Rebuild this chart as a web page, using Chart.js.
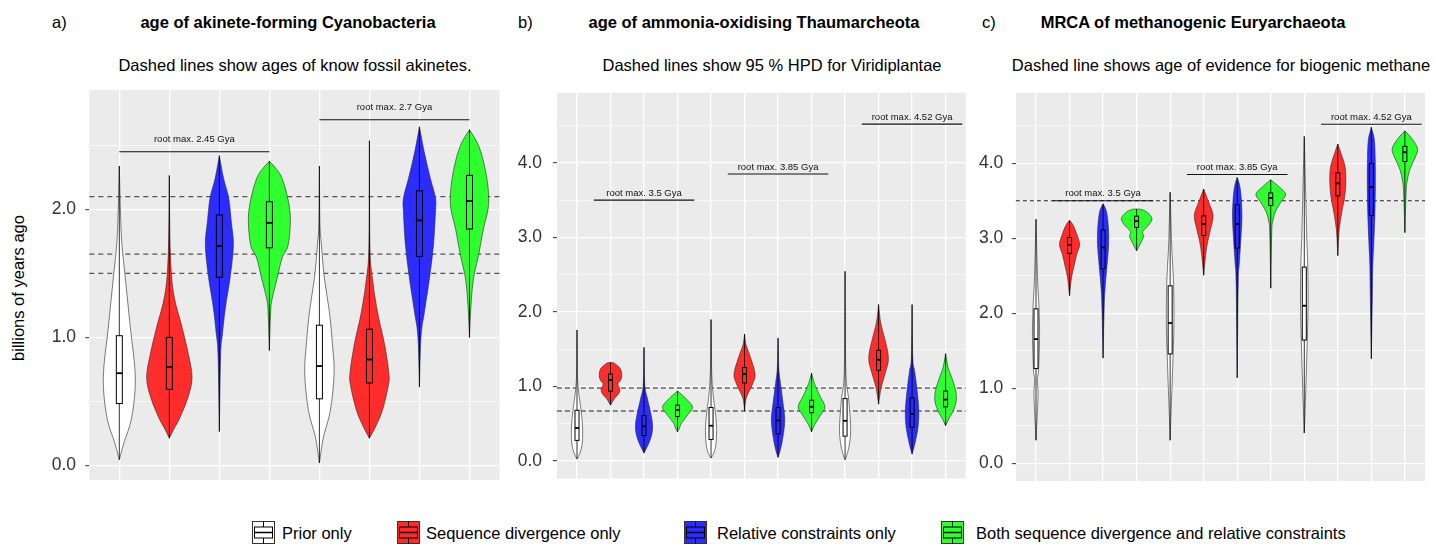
<!DOCTYPE html>
<html><head><meta charset="utf-8">
<script src="https://cdn.jsdelivr.net/npm/chart.js@4.4.1/dist/chart.umd.min.js"></script>
<style>
html,body{margin:0;padding:0;background:#fff;}
body{width:1435px;height:544px;position:relative;overflow:hidden;font-family:"Liberation Sans",Arial,Helvetica,sans-serif;color:#000;}
.t{position:absolute;white-space:nowrap;line-height:18px;}
.c{transform:translateX(-50%);}
canvas{position:absolute;top:0;}
</style></head><body>
<div class="t" style="left:52px;top:12.5px;font-size:16.5px;">a)</div>
<div class="t c" style="left:288px;top:12.5px;font-size:16.5px;font-weight:bold;">age of akinete-forming Cyanobacteria</div>
<div class="t c" style="left:295px;top:56px;font-size:16.5px;">Dashed lines show ages of know fossil akinetes.</div>
<div class="t" style="left:518px;top:12.5px;font-size:16.5px;">b)</div>
<div class="t c" style="left:754px;top:12.5px;font-size:16.5px;font-weight:bold;">age of ammonia-oxidising Thaumarcheota</div>
<div class="t c" style="left:772px;top:56px;font-size:16.5px;">Dashed lines show 95 % HPD for Viridiplantae</div>
<div class="t" style="left:982px;top:12.5px;font-size:16.5px;">c)</div>
<div class="t c" style="left:1193px;top:12.5px;font-size:16.5px;font-weight:bold;">MRCA of methanogenic Euryarchaeota</div>
<div class="t c" style="left:1221px;top:56px;font-size:16.5px;">Dashed line shows age of evidence for biogenic methane</div>
<div class="t" style="left:18px;top:288px;font-size:16.5px;transform:translate(-50%,-50%) rotate(-90deg);">billions of years ago</div>

<canvas id="pa" width="510" height="500" style="left:0px;"></canvas>
<canvas id="pb" width="470" height="500" style="left:505px;"></canvas>
<canvas id="pc" width="465" height="500" style="left:970px;"></canvas>
<div id="legend"></div>

<script>
// ---------------- DATA ----------------
const categories = ["Prior only", "Sequence divergence only", "Relative constraints only", "Both sequence divergence and relative constraints"];

// Panel a: age of akinete-forming Cyanobacteria
const aSeries = [0, 1, 2, 3, 0, 1, 2, 3];
const aQ1     = [0.483, 0.594, 1.47, 1.70, 0.52, 0.644, 1.633, 1.847];
const aMedian = [0.72, 0.767, 1.715, 1.895, 0.776, 0.827, 1.914, 2.065];
const aQ3     = [1.013, 1.0, 1.956, 2.06, 1.095, 1.064, 2.145, 2.266];
const aDensity = [
  [[2.339,0],[1.80,0.04],[1.465,0.12],[1.078,0.22],[0.69,0.32],[0.38,0.25],[0.173,0.09],[0.044,0]],
  [[2.265,0],[1.67,0.02],[1.34,0.086],[1.08,0.254],[0.87,0.38],[0.69,0.454],[0.54,0.38],[0.38,0.22],[0.28,0.086],[0.212,0]],
  [[2.42,0],[2.24,0.086],[2.09,0.186],[1.90,0.24],[1.72,0.28],[1.48,0.22],[1.23,0.12],[1.02,0.06],[0.86,0.026],[0.264,0]],
  [[2.377,0],[2.27,0.22],[2.11,0.354],[1.93,0.42],[1.72,0.374],[1.62,0.254],[1.46,0.154],[1.30,0.054],[1.20,0.026],[0.897,0]],
  [[2.339,0],[1.90,0.01],[1.72,0.04],[1.46,0.10],[1.20,0.20],[0.95,0.26],[0.72,0.294],[0.43,0.22],[0.22,0.08],[0.018,0]],
  [[2.537,0],[1.72,0.01],[1.46,0.06],[1.20,0.16],[0.95,0.30],[0.73,0.386],[0.63,0.38],[0.43,0.26],[0.30,0.12],[0.212,0]],
  [[2.646,0],[2.44,0.10],[2.24,0.22],[2.09,0.32],[1.98,0.32],[1.72,0.28],[1.46,0.20],[1.20,0.10],[1.0,0.03],[0.612,0]],
  [[2.623,0],[2.50,0.18],[2.34,0.30],[2.16,0.374],[2.01,0.374],[1.85,0.28],[1.64,0.18],[1.46,0.08],[1.25,0.03],[1.0,0]]
];
const aRefLines = [2.1, 1.65, 1.5];
const aRootMax = [2.45, 2.7];
const aRootFrom = [1, 5];
const aRootTo = [4, 8];
const aRootLabels = ["root max. 2.45 Gya", "root max. 2.7 Gya"];
const aTicks = [0, 1, 2];
const aTickLabels = ["0.0", "1.0", "2.0"];
const aMinorTicks = [0.5, 1.5, 2.5];

// Panel b: age of ammonia-oxidising Thaumarcheota
const bSeries = [0, 1, 2, 3, 0, 1, 2, 3, 0, 1, 2, 3];
const bQ1     = [0.276, 0.938, 0.342, 0.596, 0.289, 1.047, 0.364, 0.648, 0.333, 1.218, 0.451, 0.727];
const bMedian = [0.443, 1.087, 0.465, 0.683, 0.473, 1.166, 0.543, 0.727, 0.539, 1.358, 0.631, 0.824];
const bQ3     = [0.68, 1.166, 0.609, 0.749, 0.718, 1.253, 0.718, 0.815, 0.837, 1.485, 0.846, 0.938];
const bDensity = [
  [[1.757,0],[1.08,0.02],[0.68,0.12],[0.47,0.165],[0.25,0.16],[0.11,0.09],[0.026,0]],
  [[1.322,0],[1.316,0.1],[1.24,0.29],[1.15,0.337],[1.08,0.30],[1.034,0.22],[0.96,0.28],[0.90,0.24],[0.838,0.12],[0.749,0]],
  [[1.524,0],[1.034,0.02],[0.858,0.09],[0.683,0.18],[0.508,0.25],[0.376,0.24],[0.245,0.15],[0.105,0]],
  [[0.938,0],[0.88,0.15],[0.815,0.30],[0.718,0.45],[0.618,0.30],[0.508,0.12],[0.442,0.06],[0.39,0]],
  [[1.897,0],[1.209,0.02],[0.9,0.06],[0.683,0.12],[0.464,0.165],[0.245,0.15],[0.114,0.09],[0.039,0]],
  [[1.704,0],[1.56,0.045],[1.387,0.18],[1.166,0.315],[1.034,0.24],[0.903,0.105],[0.815,0.035],[0.67,0]],
  [[1.648,0],[1.253,0.02],[1.034,0.075],[0.771,0.15],[0.553,0.2],[0.333,0.15],[0.158,0.075],[0.048,0]],
  [[1.179,0],[1.034,0.09],[0.88,0.24],[0.727,0.40],[0.618,0.27],[0.508,0.12],[0.44,0.045],[0.39,0]],
  [[2.545,0],[1.4,0.015],[1.034,0.045],[0.858,0.1],[0.595,0.15],[0.376,0.165],[0.2,0.12],[0.09,0.06],[0.018,0]],
  [[2.099,0],[1.866,0.06],[1.647,0.18],[1.472,0.27],[1.34,0.29],[1.209,0.22],[1.056,0.12],[0.947,0.06],[0.762,0]],
  [[2.099,0],[1.385,0.02],[1.209,0.075],[0.947,0.15],[0.683,0.2],[0.464,0.18],[0.245,0.09],[0.092,0]],
  [[1.441,0],[1.253,0.075],[1.122,0.18],[0.947,0.30],[0.815,0.32],[0.683,0.24],[0.573,0.105],[0.473,0]]
];
const bRefLines = [0.98, 0.67];
const bRootMax = [3.5, 3.85, 4.52];
const bRootFrom = [1.5, 5.5, 9.5];
const bRootTo = [4.5, 8.5, 12.5];
const bRootLabels = ["root max. 3.5 Gya", "root max. 3.85 Gya", "root max. 4.52 Gya"];
const bTicks = [0, 1, 2, 3, 4];
const bTickLabels = ["0.0", "1.0", "2.0", "3.0", "4.0"];
const bMinorTicks = [0.5, 1.5, 2.5, 3.5, 4.5];

// Panel c: MRCA of methanogenic Euryarchaeota
const cSeries = [0, 1, 2, 3, 0, 1, 2, 3, 0, 1, 2, 3];
const cQ1     = [1.261, 2.799, 2.593, 3.145, 1.457, 3.036, 2.869, 3.437, 1.642, 3.565, 3.302, 4.023];
const cMedian = [1.655, 2.913, 2.877, 3.228, 1.869, 3.189, 3.19, 3.538, 2.1, 3.732, 3.684, 4.147];
const cQ3     = [2.058, 3.009, 3.11, 3.294, 2.365, 3.298, 3.447, 3.604, 2.615, 3.872, 3.994, 4.226];
const cDensity = [
  [[3.254,0],[2.475,0.045],[2.06,0.09],[1.686,0.105],[1.248,0.075],[1.116,0.04],[0.95,0.06],[0.722,0.045],[0.306,0]],
  [[3.24,0],[3.175,0.105],[3.044,0.224],[2.913,0.30],[2.781,0.21],[2.628,0.134],[2.475,0.06],[2.234,0]],
  [[3.46,0],[3.35,0.105],[3.13,0.16],[2.913,0.165],[2.65,0.12],[2.34,0.06],[2.04,0.03],[1.401,0]],
  [[3.39,0],[3.386,0.12],[3.35,0.30],[3.263,0.457],[3.175,0.36],[3.088,0.18],[3.022,0.21],[2.935,0.12],[2.869,0.045],[2.833,0]],
  [[3.613,0],[2.913,0.045],[2.65,0.075],[2.34,0.105],[1.86,0.113],[1.466,0.09],[1.07,0.06],[0.72,0.03],[0.306,0]],
  [[3.657,0],[3.48,0.15],[3.307,0.28],[3.13,0.21],[2.956,0.12],[2.781,0.06],[2.505,0]],
  [[3.811,0],[3.70,0.075],[3.53,0.12],[3.265,0.14],[2.96,0.105],[2.65,0.06],[2.39,0.03],[1.138,0]],
  [[3.78,0],[3.70,0.21],[3.59,0.44],[3.48,0.30],[3.35,0.134],[3.22,0.06],[3.1,0.03],[2.334,0]],
  [[4.358,0],[3.53,0.045],[3.0,0.075],[2.606,0.105],[2.12,0.113],[1.64,0.09],[1.2,0.06],[0.766,0.03],[0.402,0]],
  [[4.257,0],[4.14,0.09],[3.964,0.21],[3.79,0.24],[3.57,0.21],[3.35,0.12],[3.175,0.06],[3.044,0.03],[2.768,0]],
  [[4.481,0],[4.31,0.09],[4.05,0.115],[3.70,0.12],[3.31,0.105],[2.96,0.075],[2.65,0.045],[2.21,0.03],[1.393,0]],
  [[4.432,0],[4.36,0.15],[4.27,0.30],[4.18,0.38],[4.07,0.30],[3.92,0.15],[3.74,0.06],[3.53,0.03],[3.075,0]]
];
const cRefLines = [3.5];
const cRootMax = [3.5, 3.85, 4.52];
const cRootFrom = [1.5, 5.5, 9.5];
const cRootTo = [4.5, 8.5, 12.5];
const cRootLabels = ["root max. 3.5 Gya", "root max. 3.85 Gya", "root max. 4.52 Gya"];
const cTicks = [0, 1, 2, 3, 4];
const cTickLabels = ["0.0", "1.0", "2.0", "3.0", "4.0"];
const cMinorTicks = [0.5, 1.5, 2.5, 3.5, 4.5];

// ---------------- STYLE ----------------
const FILLS = ['#ffffff', '#ff2c2c', '#2c2cff', '#2eff2e'];
const FONT = '"Liberation Sans", Arial, Helvetica, sans-serif';

// ---------------- DRAWING ----------------
function side(ctx, pts, cx, sign) {
  for (let i = 0; i < pts.length - 1; i++) {
    const p0 = pts[Math.max(i - 1, 0)], p1 = pts[i], p2 = pts[i + 1], p3 = pts[Math.min(i + 2, pts.length - 1)];
    let c1x = p1[0] + (p2[0] - p0[0]) / 6, c1y = p1[1] + (p2[1] - p0[1]) / 6;
    let c2x = p2[0] - (p3[0] - p1[0]) / 6, c2y = p2[1] - (p3[1] - p1[1]) / 6;
    const lo = Math.min(p1[1], p2[1]), hi = Math.max(p1[1], p2[1]);
    c1y = Math.min(hi, Math.max(lo, c1y)); c2y = Math.min(hi, Math.max(lo, c2y));
    if (sign > 0) { c1x = Math.max(c1x, cx); c2x = Math.max(c2x, cx); }
    else { c1x = Math.min(c1x, cx); c2x = Math.min(c2x, cx); }
    ctx.bezierCurveTo(c1x, c1y, c2x, c2y, p2[0], p2[1]);
  }
}

function makePlugin(p) {
  return {
    id: 'violinPanel',
    beforeDraw(chart) {
      const { ctx, chartArea: a } = chart;
      ctx.save(); ctx.fillStyle = '#ebebeb'; ctx.fillRect(a.left, a.top, a.width, a.height); ctx.restore();
    },
    beforeDatasetsDraw(chart) {
      const { ctx, chartArea: a, scales: { y } } = chart;
      ctx.save();
      ctx.strokeStyle = p.dash.color; ctx.lineWidth = p.dash.width; ctx.setLineDash(p.dash.pattern);
      p.refLines.forEach(v => {
        const py = y.getPixelForValue(v);
        ctx.beginPath(); ctx.moveTo(a.left, py); ctx.lineTo(a.right, py); ctx.stroke();
      });
      ctx.restore();
    },
    afterDatasetsDraw(chart) {
      const { ctx, scales: { x, y } } = chart;
      const unit = x.getPixelForValue(1) - x.getPixelForValue(0);
      ctx.save();
      p.density.forEach((prof, i) => {
        const cx = x.getPixelForValue(i + 1);
        const fill = FILLS[p.series[i]];
        const right = prof.map(([v, w]) => [cx + w * unit, y.getPixelForValue(v)]);
        const left = prof.slice().reverse().map(([v, w]) => [cx - w * unit, y.getPixelForValue(v)]);
        ctx.beginPath();
        ctx.moveTo(right[0][0], right[0][1]);
        side(ctx, right, cx, 1);
        side(ctx, left, cx, -1);
        ctx.closePath();
        ctx.fillStyle = fill; ctx.fill();
        ctx.strokeStyle = '#262626'; ctx.lineWidth = 0.6; ctx.setLineDash([]); ctx.stroke();
        ctx.beginPath();
        ctx.moveTo(cx, y.getPixelForValue(prof[0][0]));
        ctx.lineTo(cx, y.getPixelForValue(prof[prof.length - 1][0]));
        ctx.strokeStyle = '#000'; ctx.lineWidth = 0.8; ctx.stroke();
        const hw = 0.06 * unit;
        const yq1 = y.getPixelForValue(p.q1[i]), yq3 = y.getPixelForValue(p.q3[i]), ym = y.getPixelForValue(p.median[i]);
        ctx.fillStyle = fill;
        ctx.fillRect(cx - hw, yq3, 2 * hw, yq1 - yq3);
        ctx.strokeStyle = '#000'; ctx.lineWidth = 1;
        ctx.strokeRect(cx - hw, yq3, 2 * hw, yq1 - yq3);
        ctx.beginPath(); ctx.moveTo(cx - hw, ym); ctx.lineTo(cx + hw, ym);
        ctx.lineWidth = 1.8; ctx.stroke();
      });
      ctx.strokeStyle = '#111'; ctx.lineWidth = 1.1; ctx.fillStyle = '#111';
      ctx.font = '9.5px ' + FONT; ctx.textAlign = 'center'; ctx.textBaseline = 'middle';
      p.rootMax.forEach((v, k) => {
        const py = y.getPixelForValue(v);
        const x0 = x.getPixelForValue(p.rootFrom[k]), x1 = x.getPixelForValue(p.rootTo[k]);
        ctx.beginPath(); ctx.moveTo(x0, py); ctx.lineTo(x1, py); ctx.stroke();
        ctx.fillText(p.rootLabels[k], (x0 + x1) / 2, y.getPixelForValue(v + 0.095));
      });
      ctx.restore();
    }
  };
}

function makePanel(id, p) {
  const n = p.density.length;
  const allTicks = p.ticks.concat(p.minor).sort((u, v) => u - v);
  const isMajor = v => p.ticks.some(t => Math.abs(t - v) < 1e-9);
  new Chart(document.getElementById(id), {
    type: 'scatter',
    data: { datasets: [{ data: p.median.map((m, i) => ({ x: i + 1, y: m })), pointRadius: 0, showLine: false }] },
    options: {
      responsive: false, animation: false, events: [],
      layout: { padding: p.padding },
      plugins: { legend: { display: false }, tooltip: { enabled: false } },
      scales: {
        x: {
          type: 'linear', min: 0.4, max: n + 0.6,
          afterBuildTicks: s => { s.ticks = p.density.map((d, i) => ({ value: i + 1 })); },
          afterFit: s => { s.height = 0; },
          ticks: { display: false },
          border: { display: false },
          grid: { color: '#ffffff', lineWidth: 1.3, drawTicks: false }
        },
        y: {
          type: 'linear', min: p.yMin, max: p.yMax,
          afterBuildTicks: s => { s.ticks = allTicks.map(v => ({ value: v })); },
          afterFit: s => { s.width = p.yWidth; },
          border: { display: false },
          ticks: {
            padding: p.tickPad, color: '#333',
            font: { family: FONT, size: 17.5 },
            callback: v => { const k = p.ticks.findIndex(t => Math.abs(t - v) < 1e-9); return k >= 0 ? p.tickLabels[k] : ''; }
          },
          grid: {
            color: '#ffffff',
            lineWidth: c => isMajor(c.tick.value) ? 1.3 : 0.6,
            tickColor: c => isMajor(c.tick.value) ? '#333333' : 'rgba(0,0,0,0)',
            tickLength: 4, tickWidth: 1
          }
        }
      }
    },
    plugins: [makePlugin(p)]
  });
}

makePanel('pa', {
  series: aSeries, q1: aQ1, median: aMedian, q3: aQ3, density: aDensity,
  refLines: aRefLines, rootMax: aRootMax, rootFrom: aRootFrom, rootTo: aRootTo, rootLabels: aRootLabels,
  ticks: aTicks, tickLabels: aTickLabels, minor: aMinorTicks,
  yMin: -0.116, yMax: 2.933, yWidth: 89.3, tickPad: 9.3,
  padding: { left: 0, top: 90, right: 10.5, bottom: 16 },
  dash: { color: '#555555', width: 1.2, pattern: [5, 4] }
});
makePanel('pb', {
  series: bSeries, q1: bQ1, median: bMedian, q3: bQ3, density: bDensity,
  refLines: bRefLines, rootMax: bRootMax, rootFrom: bRootFrom, rootTo: bRootTo, rootLabels: bRootLabels,
  ticks: bTicks, tickLabels: bTickLabels, minor: bMinorTicks,
  yMin: -0.2365, yMax: 4.941, yWidth: 51.9, tickPad: 10.9,
  padding: { left: 0, top: 92.7, right: 9.3, bottom: 13.3 },
  dash: { color: '#666666', width: 1.6, pattern: [5, 3] }
});
makePanel('pc', {
  series: cSeries, q1: cQ1, median: cMedian, q3: cQ3, density: cDensity,
  refLines: cRefLines, rootMax: cRootMax, rootFrom: cRootFrom, rootTo: cRootTo, rootLabels: cRootLabels,
  ticks: cTicks, tickLabels: cTickLabels, minor: cMinorTicks,
  yMin: -0.2365, yMax: 4.941, yWidth: 45.9, tickPad: 8.6,
  padding: { left: 0, top: 92.7, right: 10, bottom: 13.3 },
  dash: { color: '#222222', width: 1, pattern: [4, 3] }
});

// ---------------- LEGEND ----------------
const legendIconX = [252, 397, 684, 941];
const legendTextX = [282, 426, 717, 976];
const leg = document.getElementById('legend');
categories.forEach((name, i) => {
  const f = FILLS[i];
  const icon = document.createElementNS('http://www.w3.org/2000/svg', 'svg');
  icon.setAttribute('width', '24'); icon.setAttribute('height', '24');
  icon.style.position = 'absolute'; icon.style.left = legendIconX[i] + 'px'; icon.style.top = '521px';
  icon.innerHTML =
    '<rect x="0.5" y="0.5" width="22" height="22" fill="' + f + '" stroke="#333" stroke-width="1"/>' +
    '<line x1="11.5" y1="0.5" x2="11.5" y2="6" stroke="#000" stroke-width="1"/>' +
    '<line x1="11.5" y1="17" x2="11.5" y2="22.5" stroke="#000" stroke-width="1"/>' +
    '<rect x="2.5" y="6" width="18" height="11" fill="' + f + '" stroke="#000" stroke-width="1"/>' +
    '<line x1="2.5" y1="11.5" x2="20.5" y2="11.5" stroke="#000" stroke-width="1.5"/>';
  leg.appendChild(icon);
  const t = document.createElement('div');
  t.className = 't'; t.textContent = name;
  t.style.left = legendTextX[i] + 'px'; t.style.top = '523px'; t.style.fontSize = '16.5px'; t.style.lineHeight = '20px';
  leg.appendChild(t);
});
</script>
</body></html>
